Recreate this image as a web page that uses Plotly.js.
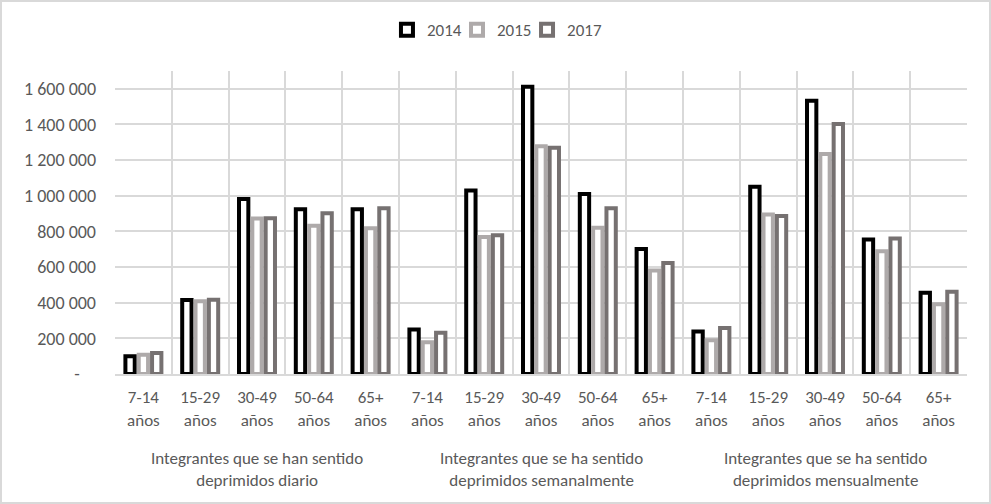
<!DOCTYPE html>
<html>
<head>
<meta charset="utf-8">
<script src="https://cdn.plot.ly/plotly-3.0.1.min.js"></script>
<style>
html,body{margin:0;padding:0;background:#fff;}
#wrap{position:relative;width:991px;height:504px;}
#chart{position:absolute;left:0;top:0;width:991px;height:504px;}
#frame{position:absolute;left:0;top:0;width:987px;height:500px;border:2px solid #d9d9d9;pointer-events:none;}
</style>
</head>
<body>
<div id="wrap"><div id="chart"></div><div id="frame"></div></div>
<script>
var groups = [
  "Integrantes que se han sentido<br>deprimidos diario",
  "Integrantes que se ha sentido<br>deprimidos semanalmente",
  "Integrantes que se ha sentido<br>deprimidos mensualmente"
];
var ages = ["7-14<br>años", "15-29<br>años", "30-49<br>años", "50-64<br>años", "65+<br>años"];
var years = ["2014", "2015", "2017"];

var v2014 = [100000, 415000, 982000, 925000, 925000,
             250000, 1030000, 1612000, 1010000, 702000,
             238000, 1050000, 1533000, 754000, 456000];
var v2015 = [108000, 408000, 872000, 832000, 818000,
             178000, 768000, 1278000, 820000, 580000,
             190000, 895000, 1234000, 689000, 391000];
var v2017 = [118000, 416000, 874000, 902000, 930000,
             232000, 778000, 1270000, 930000, 623000,
             258000, 887000, 1402000, 760000, 462000];

var yTickVals = [0, 200000, 400000, 600000, 800000, 1000000, 1200000, 1400000, 1600000];
var yTickText = ["-\u00a0\u00a0\u00a0\u00a0", "200 000", "400 000", "600 000", "800 000", "1 000 000", "1 200 000", "1 400 000", "1 600 000"];

var colors = ["#000000", "#aeaaaa", "#767171"];
var series = [v2014, v2015, v2017];

// unique category keys (group index + age), labelled with the age text
var keys = [], keyText = [];
groups.forEach(function(g, gi){
  ages.forEach(function(a){ keys.push(gi + "|" + a); keyText.push(a); });
});

var font = "Carlito, Lato, 'Liberation Sans', sans-serif";
var txtColor = "#595959";
var legendIds = ["legend", "legend2", "legend3"];
var legendX = [0.3192, 0.4014, 0.4836];

var traces = series.map(function(vals, i){
  return {
    type: "bar",
    name: years[i],
    legend: legendIds[i],
    x: keys,
    y: vals,
    marker: {color: "#ffffff", line: {color: colors[i], width: 4}},
    hoverinfo: "y+name"
  };
});

var annotations = groups.map(function(g, gi){
  return {
    text: g, xref: "x", yref: "paper",
    x: keys[gi * ages.length + Math.floor(ages.length / 2)],
    y: -0.236, yanchor: "top", xanchor: "center",
    showarrow: false, align: "center",
    font: {family: font, size: 17, color: txtColor}
  };
});

var layout = {
  width: 991, height: 504,
  margin: {l: 115, r: 24, t: 71, b: 130},
  paper_bgcolor: "#ffffff", plot_bgcolor: "#ffffff",
  barmode: "group",
  bargap: 0.296,
  bargroupgap: 0.3,
  font: {family: font, color: txtColor, size: 17},
  showlegend: true,
  annotations: annotations,
  xaxis: {
    type: "category",
    tickvals: keys, ticktext: keyText,
    tickson: "boundaries",
    showgrid: true, gridcolor: "#d9d9d9", gridwidth: 2,
    showline: true, linecolor: "#d9d9d9", linewidth: 2,
    ticks: "",
    ticklabelstandoff: 7,
    tickfont: {family: font, size: 17, color: txtColor}
  },
  yaxis: {
    range: [0, 1700000],
    tickvals: yTickVals, ticktext: yTickText,
    showgrid: true, gridcolor: "#d9d9d9", gridwidth: 2,
    zeroline: false, showline: false, ticks: "",
    ticklabelstandoff: 18,
    tickfont: {family: font, size: 18, color: txtColor}
  }
};
legendIds.forEach(function(id, i){
  layout[id] = {orientation: "h", x: legendX[i], xanchor: "left", y: 1.135, yanchor: "middle",
                font: {family: font, size: 17, color: txtColor}, itemwidth: 30,
                bgcolor: "rgba(0,0,0,0)"};
});

Plotly.newPlot("chart", traces, layout, {displayModeBar: false, staticPlot: true});
</script>
</body>
</html>
